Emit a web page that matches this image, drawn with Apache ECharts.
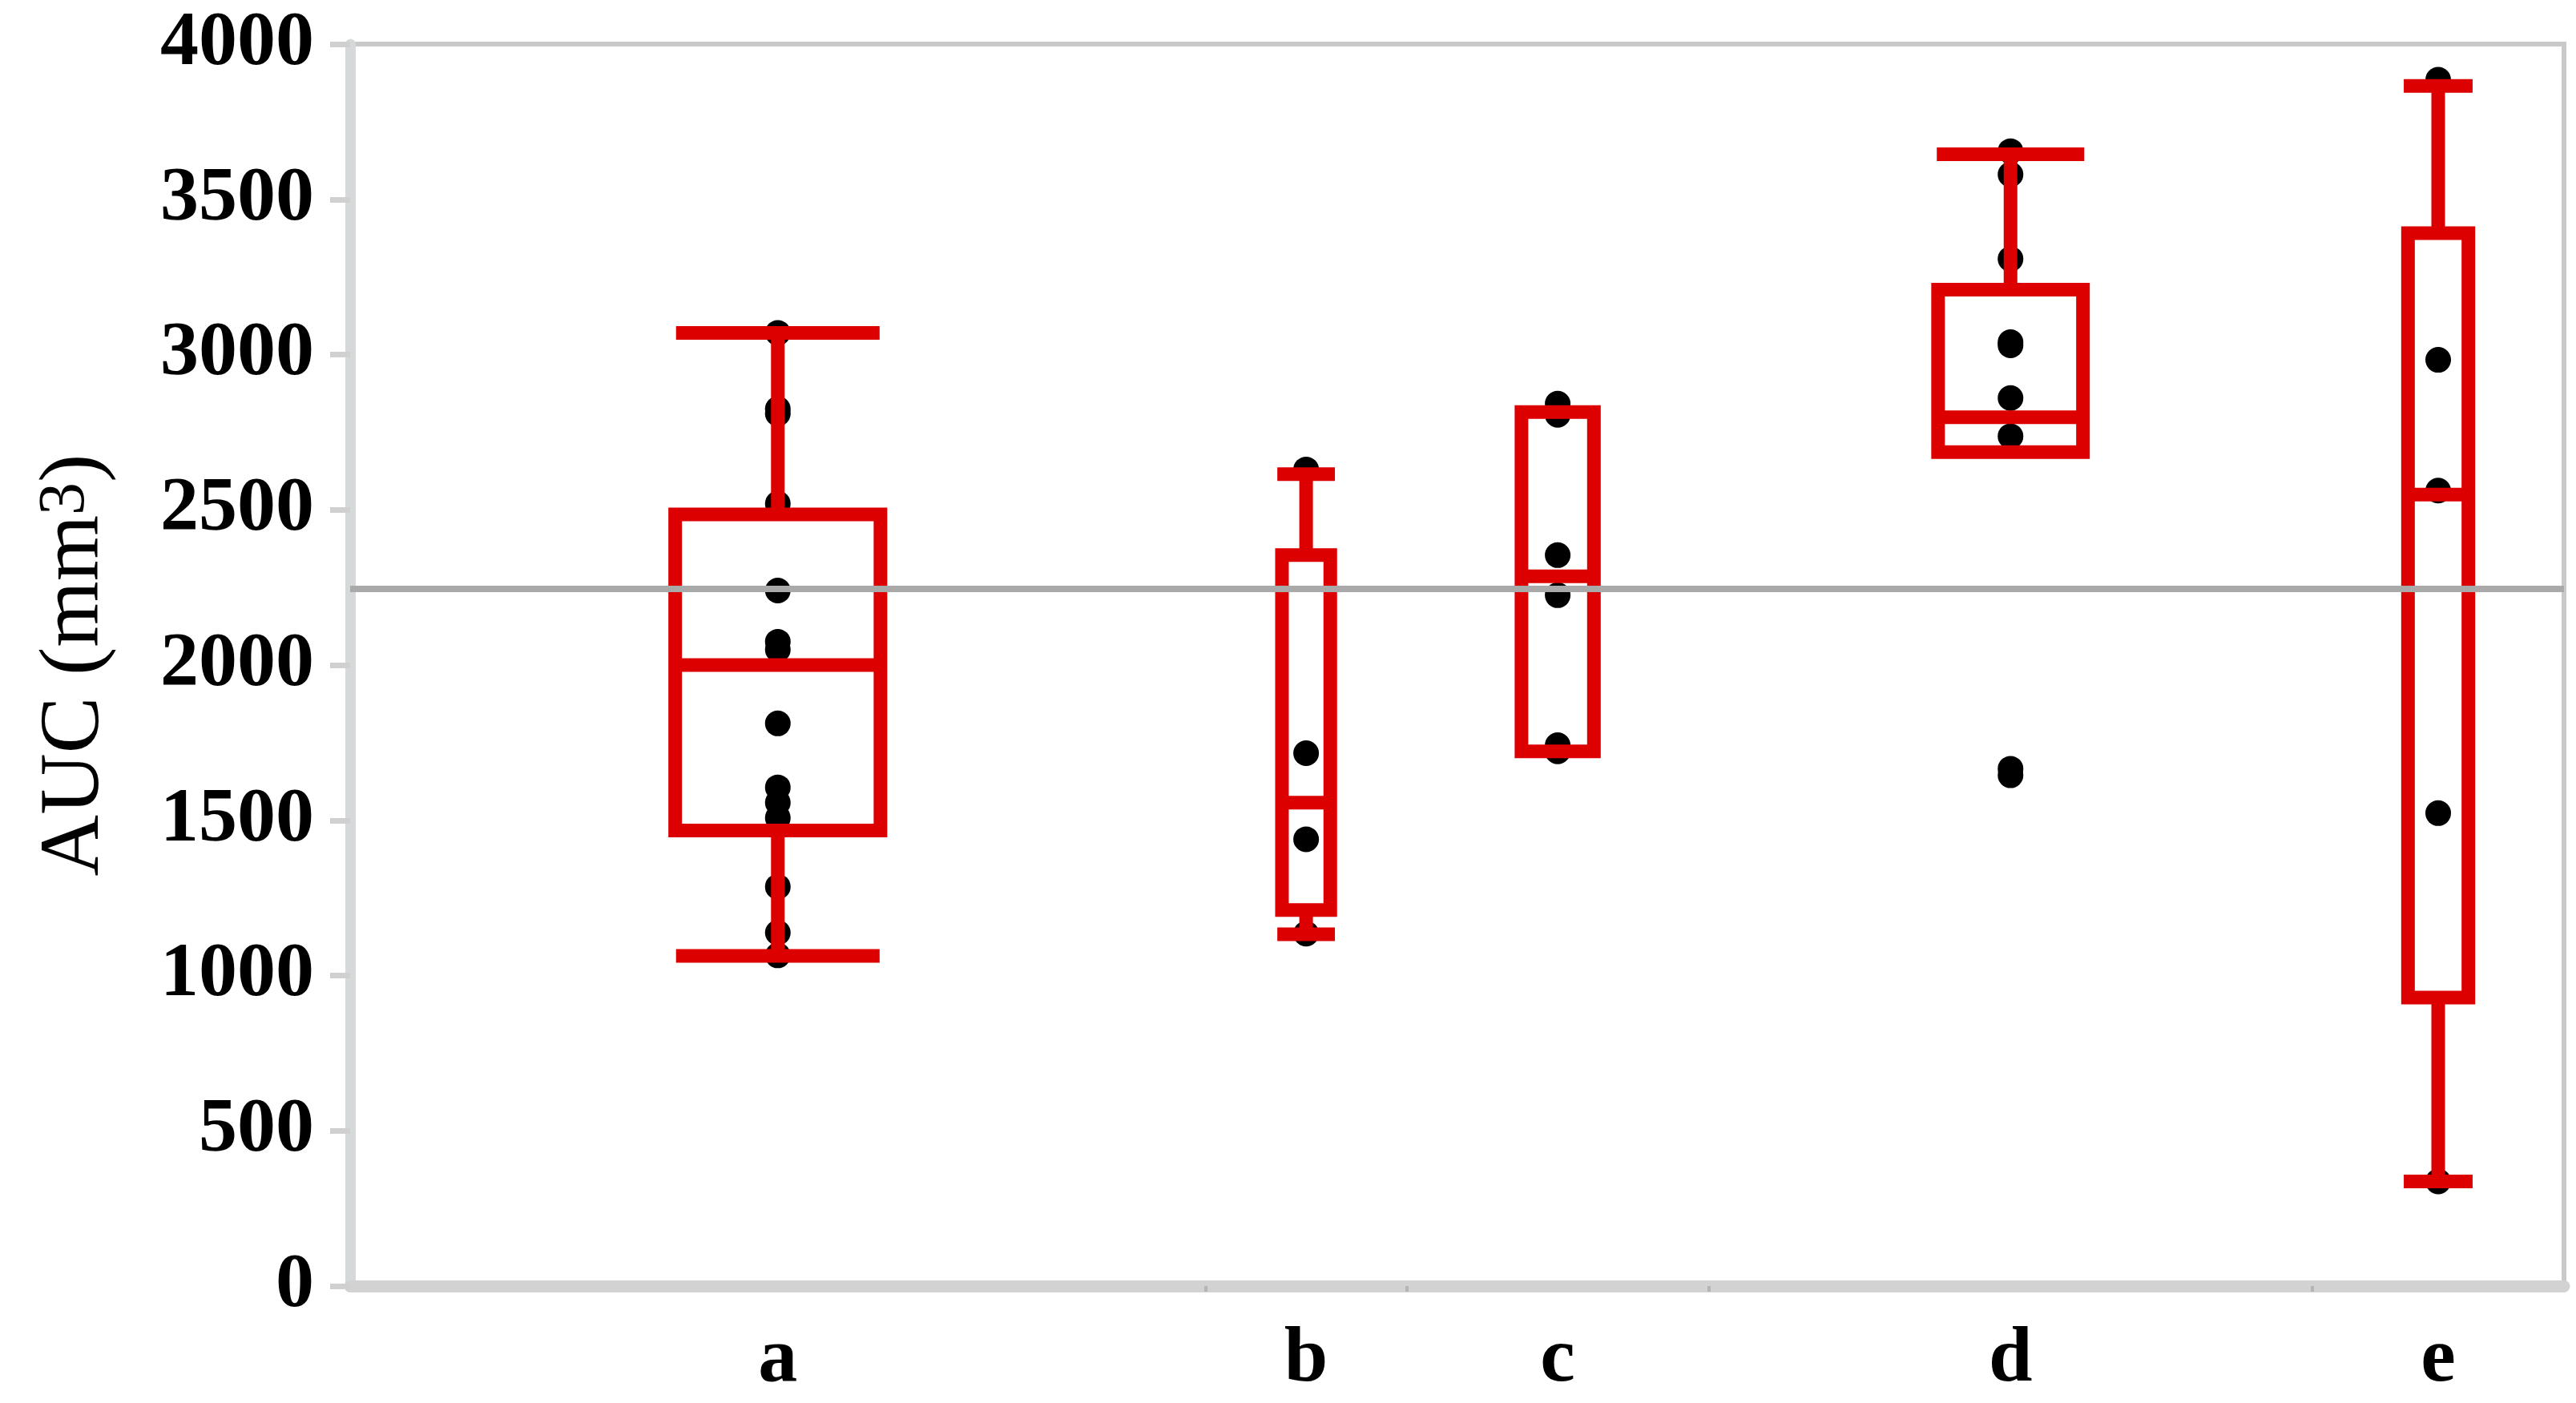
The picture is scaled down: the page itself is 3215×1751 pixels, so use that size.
<!DOCTYPE html>
<html>
<head>
<meta charset="utf-8">
<script src="https://cdn.jsdelivr.net/npm/echarts@6/dist/echarts.min.js"></script>
<style>
  html, body { margin: 0; padding: 0; background: #ffffff; }
  #chart { width: 3215px; height: 1751px; }
</style>
</head>
<body>
<div id="chart"></div>
<script>
// ---- data ----
const groups = ['a', 'b', 'c', 'd', 'e'];
const groupN = [17, 4, 6, 12, 5];               // group sizes (x-axis width of each group)
const whiskerLow  = [1063, 1133, 1722, 2686, 337];
const quartile1   = [1467, 1211, 1722, 2686, 929];
const medians     = [2000, 1557, 2286, 2798, 2549];
const quartile3   = [2485, 2354, 2815, 3209, 3391];
const whiskerHigh = [3070, 2615, 2815, 3645, 3865];
const pointsA = [3070, 2825, 2810, 2520, 2240, 2075, 2050, 1812, 1606, 1557, 1508, 1286, 1138, 1065];
const pointsB = [2630, 1716, 1439, 1135];
const pointsC = [2842, 2806, 2354, 2225, 1742, 1722];
const pointsD = [3655, 3580, 3308, 3040, 3030, 2860, 2737, 1666, 1645];
const pointsE = [3885, 2983, 2562, 1523, 337];
const overallMean = 2245;
const yMin = 0, yMax = 4000, yStep = 500;
const yTitle = 'AUC (mm';
const yTitleSup = '3';

// ---- derived layout along x (group segments proportional to n) ----
const total = groupN.reduce((s, v) => s + v, 0);
const bounds = [];
const centers = [];
let acc = 0;
groupN.forEach((n, i) => {
  centers.push(acc + n / 2);
  acc += n;
  if (i < groupN.length - 1) bounds.push(acc);
});
const allPoints = [pointsA, pointsB, pointsC, pointsD, pointsE];

const RED = '#dd0000';
const LW = 17;
const BOX_FRAC = 0.24;
const CAP_FRAC = 0.93;

const boxData = groups.map((g, i) => [centers[i], whiskerLow[i], quartile1[i], medians[i], quartile3[i], whiskerHigh[i], groupN[i]]);
const dotData = [];
allPoints.forEach((arr, i) => arr.forEach(v => dotData.push([centers[i], v])));

function renderBox(params, api) {
  const cx = api.value(0);
  const lo = api.value(1), q1 = api.value(2), md = api.value(3), q3 = api.value(4), hi = api.value(5), n = api.value(6);
  const w = api.size([n * BOX_FRAC, 0])[0];
  const px = api.coord([cx, md])[0];
  const yLo = api.coord([cx, lo])[1];
  const yQ1 = api.coord([cx, q1])[1];
  const yMd = api.coord([cx, md])[1];
  const yQ3 = api.coord([cx, q3])[1];
  const yHi = api.coord([cx, hi])[1];
  const capHalf = CAP_FRAC * (w + LW) / 2;
  const st = { stroke: RED, lineWidth: LW, fill: null, lineCap: 'butt', lineJoin: 'miter' };
  const ch = [];
  if (hi > q3) {
    ch.push({ type: 'line', shape: { x1: px, y1: yQ3, x2: px, y2: yHi }, style: st });
    ch.push({ type: 'line', shape: { x1: px - capHalf, y1: yHi, x2: px + capHalf, y2: yHi }, style: st });
  }
  if (lo < q1) {
    ch.push({ type: 'line', shape: { x1: px, y1: yQ1, x2: px, y2: yLo }, style: st });
    ch.push({ type: 'line', shape: { x1: px - capHalf, y1: yLo, x2: px + capHalf, y2: yLo }, style: st });
  }
  ch.push({ type: 'rect', shape: { x: px - w / 2, y: yQ3, width: w, height: yQ1 - yQ3 }, style: st });
  ch.push({ type: 'line', shape: { x1: px - w / 2, y1: yMd, x2: px + w / 2, y2: yMd }, style: st });
  return { type: 'group', children: ch };
}

const serif = 'Liberation Serif';
const chart = echarts.init(document.getElementById('chart'), null, { renderer: 'canvas' });
chart.setOption({
  animation: false,
  backgroundColor: '#ffffff',
  grid: {
    left: 437, right: 15, top: 55, bottom: 146,
    show: true, borderColor: '#c9c9c9', borderWidth: 6, backgroundColor: 'transparent'
  },
  xAxis: {
    type: 'value', min: 0, max: total,
    splitLine: { show: false },
    axisLine: { show: true, lineStyle: { color: '#d2d2d2', width: 15 } },
    axisTick: { show: true, customValues: bounds, length: 7, lineStyle: { color: '#b5b5b5', width: 4 } },
    axisLabel: {
      customValues: centers,
      margin: 44,
      fontFamily: serif, fontWeight: 'bold', fontSize: 98, color: '#000',
      formatter: function (v) {
        let best = 0;
        centers.forEach((c, i) => { if (Math.abs(c - v) < Math.abs(centers[best] - v)) best = i; });
        return groups[best];
      }
    }
  },
  yAxis: {
    type: 'value', min: yMin, max: yMax, interval: yStep,
    splitLine: { show: false },
    axisLine: { show: true, lineStyle: { color: '#d6d9d9', width: 13 } },
    axisTick: { show: true, length: 25, lineStyle: { color: '#d0d0d0', width: 7 } },
    axisLabel: {
      margin: 45, fontFamily: serif, fontWeight: 'bold', fontSize: 96, color: '#000',
      formatter: function (v) { return String(v); }
    },
    name: '{t|' + yTitle + '}{s|' + yTitleSup + '}{t|)}',
    nameLocation: 'middle',
    nameRotate: 90,
    nameGap: 290,
    nameTextStyle: {
      rich: {
        t: { fontFamily: serif, fontSize: 106, color: '#000' },
        s: { fontFamily: serif, fontSize: 82, color: '#000', verticalAlign: 'top' }
      }
    }
  },
  series: [
    {
      type: 'line', data: [], z: 1,
      markLine: {
        silent: true, symbol: ['none', 'none'],
        label: { show: false },
        lineStyle: { color: '#a9a9a9', width: 8, type: 'solid' },
        data: [{ yAxis: overallMean }]
      }
    },
    {
      type: 'scatter', z: 2, symbol: 'circle', symbolSize: 32,
      itemStyle: { color: '#000000', opacity: 1 }, data: dotData
    },
    {
      type: 'custom', z: 3, renderItem: renderBox, data: boxData,
      encode: { x: 0, y: [1, 2, 3, 4, 5] }
    }
  ]
});
</script>
</body>
</html>
